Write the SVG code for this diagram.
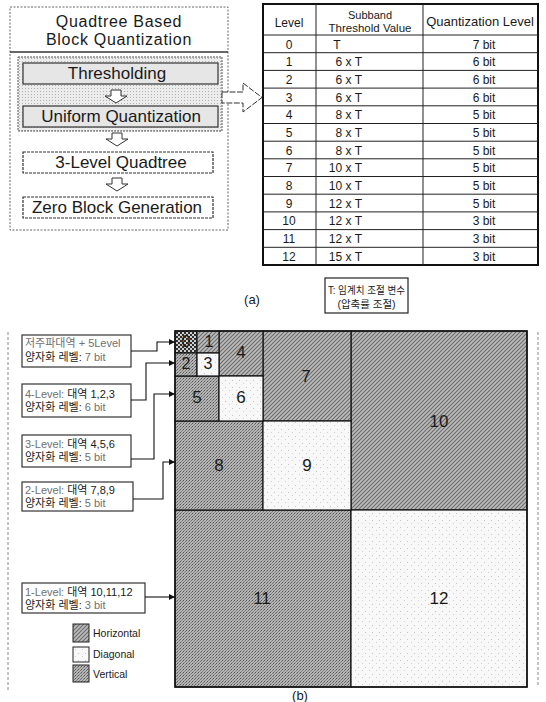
<svg xmlns="http://www.w3.org/2000/svg" width="546" height="702" viewBox="0 0 546 702">
<style>
text{font-family:"Liberation Sans","Noto Sans CJK KR",sans-serif;fill:#1a1a1a}
.t17{font-size:17px;text-anchor:middle}
.title{font-size:16px;text-anchor:middle;letter-spacing:0.7px}
.th{font-size:12px;text-anchor:middle}
.td{font-size:12px}
.m{text-anchor:middle}
.e{text-anchor:end}
.lbl{font-size:11px}
.num{font-size:17px;text-anchor:middle}
.leg{font-size:10.5px}
.fade{fill:#707070}
.grid{stroke:#222;stroke-width:1;fill:none}
.conn{stroke:#111;stroke-width:1.1;fill:none;marker-end:url(#ah)}
.cell{stroke:#111;stroke-width:1.2}
.box{fill:#fff;stroke:#333;stroke-width:1.2}
.step{fill:#e6e6e6;stroke:#333;stroke-width:1.2}
.darr{fill:#fff;stroke:#333;stroke-width:1}
.frame{fill:none;stroke:#888;stroke-width:1;stroke-dasharray:3 2}
</style>
<defs>
<pattern id="hz" width="4" height="4" patternUnits="userSpaceOnUse"><rect width="4" height="4" fill="#bcbcbc"/><path d="M0,4 L4,0 M-1,1 L1,-1 M3,5 L5,3" stroke="#6a6a6a" stroke-width="1.1"/></pattern>
<pattern id="vt" width="3" height="3" patternUnits="userSpaceOnUse"><rect width="3" height="3" fill="#b4b4b4"/><rect x="0" y="0" width="1" height="1" fill="#555"/><rect x="2" y="1" width="1" height="1" fill="#777"/><rect x="1" y="2" width="1" height="1" fill="#888"/></pattern>
<pattern id="ck" width="4" height="4" patternUnits="userSpaceOnUse"><rect width="4" height="4" fill="#cfcfcf"/><rect width="2" height="2" fill="#2e2e2e"/><rect x="2" y="2" width="2" height="2" fill="#2e2e2e"/></pattern>
<pattern id="dg" width="7" height="7" patternUnits="userSpaceOnUse"><rect width="7" height="7" fill="#f8f8f8"/><rect x="1" y="2" width="1" height="1" fill="#c4c4c4"/><rect x="5" y="5" width="1" height="1" fill="#d0d0d0"/></pattern>
<pattern id="lt" width="3" height="3" patternUnits="userSpaceOnUse"><rect width="3" height="3" fill="#ececec"/><rect x="1" y="1" width="1" height="1" fill="#b0b0b0"/></pattern>
<marker id="ah" markerWidth="6" markerHeight="6" refX="6" refY="3" orient="auto" markerUnits="userSpaceOnUse"><path d="M0,0 L6,3 L0,6 Z" fill="#111"/></marker>
<path id="dn" d="M-5,0 H5 V6 H11 L0,13 L-11,6 H-5 Z"/>
</defs>

<!-- (a) left: Quadtree based block quantization -->
<g id="quant-block">
  <rect x="10" y="7" width="218" height="223" fill="#fff" stroke="#666" stroke-width="1" stroke-dasharray="2 1.5"/>
  <text class="title" x="119" y="27">Quadtree Based</text>
  <text class="title" x="119" y="45">Block Quantization</text>
  <line x1="10" y1="52" x2="228" y2="52" stroke="#333" stroke-width="1.5"/>
  <rect x="18" y="57" width="204" height="74" fill="url(#lt)" stroke="#555" stroke-width="1" stroke-dasharray="2 1"/>
</g>
<g id="thresholding">
  <rect class="step" x="23" y="63" width="195" height="21"/>
  <text class="t17" x="117" y="79">Thresholding</text>
</g>
<g id="uniform-quantization">
  <rect class="step" x="23" y="106" width="195" height="21"/>
  <text class="t17" x="121" y="122">Uniform Quantization</text>
</g>
<g id="three-level-quadtree">
  <rect class="box" x="23" y="152" width="190" height="21" stroke-dasharray="3 1"/>
  <text class="t17" x="121" y="168">3-Level Quadtree</text>
</g>
<g id="zero-block-generation">
  <rect class="box" x="23" y="197" width="190" height="21" stroke-dasharray="3 1"/>
  <text class="t17" x="117" y="213">Zero Block Generation</text>
</g>

<!-- (a) right: table -->
<g id="table">
  <rect x="263" y="4" width="275" height="261" fill="#fff" stroke="#111" stroke-width="2"/>
  <line class="grid" x1="316" y1="4" x2="316" y2="265"/>
  <line class="grid" x1="423" y1="4" x2="423" y2="265"/>
  <line class="grid" x1="263" y1="35" x2="538" y2="35" stroke-width="1.5"/>
  <path class="grid" d="M263,52.7H538M263,70.4H538M263,88.1H538M263,105.8H538M263,123.5H538M263,141.2H538M263,158.8H538M263,176.5H538M263,194.2H538M263,211.9H538M263,229.6H538M263,247.3H538"/>
  <text class="th" x="289" y="27">Level</text>
  <text class="th" x="370" y="18.5" style="font-size:11px">Subband</text>
  <text class="th" x="370" y="31.5" style="font-size:11.5px">Threshold Value</text>
  <text class="th" x="480" y="26" style="font-size:13px">Quantization Level</text>
  <g class="td">
    <text class="m" x="289" y="48.5">0</text><text class="m" x="337" y="48.5">T</text><text class="m" x="484" y="48.5">7 bit</text>
    <text class="m" x="289" y="66.2">1</text><text class="e" x="362" y="66.2">6 x T</text><text class="m" x="484" y="66.2">6 bit</text>
    <text class="m" x="289" y="83.9">2</text><text class="e" x="362" y="83.9">6 x T</text><text class="m" x="484" y="83.9">6 bit</text>
    <text class="m" x="289" y="101.6">3</text><text class="e" x="362" y="101.6">6 x T</text><text class="m" x="484" y="101.6">6 bit</text>
    <text class="m" x="289" y="119.3">4</text><text class="e" x="362" y="119.3">8 x T</text><text class="m" x="484" y="119.3">5 bit</text>
    <text class="m" x="289" y="137">5</text><text class="e" x="362" y="137">8 x T</text><text class="m" x="484" y="137">5 bit</text>
    <text class="m" x="289" y="154.7">6</text><text class="e" x="362" y="154.7">8 x T</text><text class="m" x="484" y="154.7">5 bit</text>
    <text class="m" x="289" y="172.3">7</text><text class="e" x="362" y="172.3">10 x T</text><text class="m" x="484" y="172.3">5 bit</text>
    <text class="m" x="289" y="190">8</text><text class="e" x="362" y="190">10 x T</text><text class="m" x="484" y="190">5 bit</text>
    <text class="m" x="289" y="207.7">9</text><text class="e" x="362" y="207.7">12 x T</text><text class="m" x="484" y="207.7">5 bit</text>
    <text class="m" x="289" y="225.4">10</text><text class="e" x="362" y="225.4">12 x T</text><text class="m" x="484" y="225.4">3 bit</text>
    <text class="m" x="289" y="243.1">11</text><text class="e" x="362" y="243.1">12 x T</text><text class="m" x="484" y="243.1">3 bit</text>
    <text class="m" x="289" y="260.8">12</text><text class="e" x="362" y="260.8">15 x T</text><text class="m" x="484" y="260.8">3 bit</text>
  </g>
</g>
<g id="note-t">
  <rect x="325" y="278" width="83" height="35" fill="#fff" stroke="#222" stroke-width="1.2"/>
  <text x="328" y="293.5" style="font-size:10.5px" textLength="77" lengthAdjust="spacingAndGlyphs">T: 임계치 조절 변수</text>
  <text class="m" x="366.5" y="307.5" style="font-size:10.5px">(압축률 조절)</text>
</g>
<text x="252" y="304" class="m" style="font-size:13px">(a)</text>

<!-- (b) frame -->
<line class="frame" x1="8" y1="332" x2="8" y2="690"/>
<line class="frame" x1="538" y1="332" x2="538" y2="686" stroke-dasharray="40 3"/>

<!-- (b) subband cells -->
<g id="band-10"><rect class="cell" x="351" y="331" width="176" height="179" fill="url(#hz)"/><text class="num" x="439" y="427">10</text></g>
<g id="band-11"><rect class="cell" x="175" y="510" width="176" height="177" fill="url(#vt)"/><text class="num" x="262" y="604">11</text></g>
<g id="band-12"><rect class="cell" x="351" y="510" width="176" height="177" fill="url(#dg)"/><text class="num" x="439" y="604">12</text></g>
<g id="band-7"><rect class="cell" x="263" y="331" width="88" height="90" fill="url(#hz)"/><text class="num" x="306" y="382">7</text></g>
<g id="band-8"><rect class="cell" x="175" y="421" width="88" height="89" fill="url(#vt)"/><text class="num" x="219" y="471">8</text></g>
<g id="band-9"><rect class="cell" x="263" y="421" width="88" height="89" fill="url(#dg)"/><text class="num" x="307" y="471">9</text></g>
<g id="band-4"><rect class="cell" x="219" y="331" width="44" height="45" fill="url(#hz)"/><text class="num" x="241" y="358">4</text></g>
<g id="band-5"><rect class="cell" x="175" y="376" width="44" height="45" fill="url(#vt)"/><text class="num" x="197" y="403">5</text></g>
<g id="band-6"><rect class="cell" x="219" y="376" width="44" height="45" fill="url(#dg)"/><text class="num" x="241" y="403">6</text></g>
<g id="band-0"><rect class="cell" x="175" y="331" width="22" height="22" fill="url(#ck)"/><text class="num" x="186" y="347" style="font-size:16px">0</text></g>
<g id="band-1"><rect class="cell" x="197" y="331" width="22" height="22" fill="url(#hz)"/><text class="num" x="209" y="347" style="font-size:16px">1</text></g>
<g id="band-2"><rect class="cell" x="175" y="353" width="22" height="23" fill="url(#vt)"/><text class="num" x="186" y="369" style="font-size:16px">2</text></g>
<g id="band-3"><rect class="cell" x="197" y="353" width="22" height="23" fill="url(#dg)"/><text class="num" x="208" y="369" style="font-size:16px">3</text></g>
<rect x="175" y="331" width="352" height="356" fill="none" stroke="#111" stroke-width="1.5"/>

<!-- (b) labels -->
<g id="label-5level">
  <rect class="box" x="22" y="335" width="109" height="32"/>
  <text class="lbl" x="25" y="347"><tspan class="fade">저주파대역 + 5Level</tspan></text>
  <text class="lbl" x="25" y="361">양자화 레벨: <tspan class="fade">7 bit</tspan></text>
</g>
<g id="label-4level">
  <rect class="box" x="22" y="384" width="109" height="33"/>
  <text class="lbl" x="25" y="398"><tspan class="fade">4-Level:</tspan> 대역 1,2,3</text>
  <text class="lbl" x="25" y="411">양자화 레벨: <tspan class="fade">6 bit</tspan></text>
</g>
<g id="label-3level">
  <rect class="box" x="22" y="435" width="109" height="32"/>
  <text class="lbl" x="25" y="448"><tspan class="fade">3-Level:</tspan> 대역 4,5,6</text>
  <text class="lbl" x="25" y="461">양자화 레벨: <tspan class="fade">5 bit</tspan></text>
</g>
<g id="label-2level">
  <rect class="box" x="22" y="482" width="111" height="29"/>
  <text class="lbl" x="25" y="494"><tspan class="fade">2-Level:</tspan> 대역 7,8,9</text>
  <text class="lbl" x="25" y="507">양자화 레벨: <tspan class="fade">5 bit</tspan></text>
</g>
<g id="label-1level">
  <rect class="box" x="22" y="583" width="123" height="30"/>
  <text class="lbl" x="25" y="596"><tspan class="fade">1-Level:</tspan> 대역 10,11,12</text>
  <text class="lbl" x="25" y="609">양자화 레벨: <tspan class="fade">3 bit</tspan></text>
</g>

<!-- legend -->
<g id="legend">
  <rect x="73" y="624" width="16" height="18" fill="url(#hz)" stroke="#222"/>
  <text class="leg" x="93" y="637">Horizontal</text>
  <rect x="73" y="647" width="16" height="15" fill="url(#dg)" stroke="#222"/>
  <text class="leg" x="93" y="658">Diagonal</text>
  <rect x="73" y="665" width="16" height="17" fill="url(#vt)" stroke="#222"/>
  <text class="leg" x="93" y="678">Vertical</text>
</g>
<text x="300" y="700" class="m" style="font-size:13px">(b)</text>

<!-- connectors -->
<g id="connectors">
  <use href="#dn" class="darr" x="116" y="90"/>
  <use href="#dn" class="darr" x="117" y="133"/>
  <use href="#dn" class="darr" x="117" y="178"/>
  <path d="M222,92 H243 V83 L262,97.5 L243,112 V103 H222 Z" fill="#fff" stroke="#333" stroke-width="1" stroke-dasharray="6 1.5"/>
  <path class="conn" d="M131,351 H157 V342 H175"/>
  <path class="conn" d="M131,400 H146 V363 H175"/>
  <path class="conn" d="M131,459 H154 V394 H175"/>
  <path class="conn" d="M133,499 H163 V462 H175"/>
  <path class="conn" d="M145,597 H175"/>
</g>
</svg>
